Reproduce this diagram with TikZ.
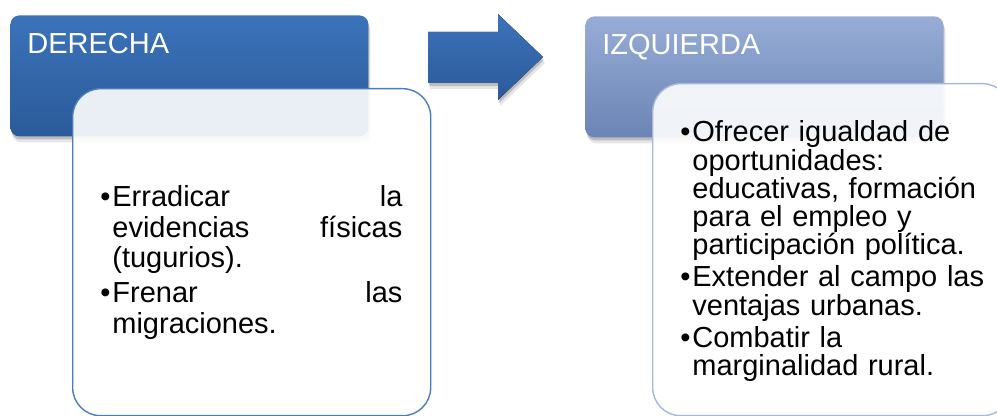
\documentclass[tikz,border=0pt]{standalone}
\usepackage{fontspec}
\setmainfont{Liberation Sans}
\usetikzlibrary{positioning,shadows,calc}
\usepackage{xcolor}
\definecolor{derarriba}{HTML}{3B73BA}
\definecolor{derabajo}{HTML}{2B5A99}
\definecolor{izqarriba}{HTML}{97ADD7}
\definecolor{izqabajo}{HTML}{6B84B4}
\definecolor{bordeder}{HTML}{4A7EBB}
\definecolor{bordeizq}{HTML}{A5B8DB}
\newcommand{\punto}{\noindent\hangindent=6pt\makebox[6pt][l]{•}}

\begin{document}
\begin{tikzpicture}[
    x=0.5pt,y=-0.5pt,
    sombra/.style={drop shadow={shadow xshift=0.5pt,shadow yshift=-1.5pt,opacity=.18,fill=black},
                   drop shadow={shadow xshift=1pt,shadow yshift=-3pt,opacity=.1,fill=black}},
    cabecera/.style={rounded corners=4.5pt,minimum width=179pt,minimum height=60.5pt,
                     inner sep=0pt,anchor=north west,sombra},
    titulo/.style={anchor=base west,inner sep=0pt,text=white,font=\fontsize{14.5}{17}\selectfont},
    contenido/.style={draw,line width=0.7pt,rounded corners=14pt,fill=white,fill opacity=.9,
                      minimum width=179pt,inner sep=0pt,anchor=north west},
    lista/.style={anchor=base west,inner sep=0pt,align=left,text=black}]
  \useasboundingbox (0,0) rectangle (997,416);
  \clip (0,0) rectangle (997,416);

  % columna derecha
  \node[cabecera,top color=derarriba,bottom color=derabajo] (der) at (10,15) {};
  \node[titulo] (tder) at ($(der.north west)+(17,39)$) {DERECHA};
  \node[contenido,draw=bordeder,minimum height=163.5pt] (cder) at ($(der.north west)+(62,73)$) {};
  \node[lista,text width=151pt,font=\fontsize{14.5}{15.25}\selectfont] (lder) at ($(cder.north west)+(28,119)$) {%
    \punto Erradicar\hfill la\newline evidencias\hfill físicas\newline (tugurios).\par\vspace{2.25pt}
    \punto Frenar\hfill las\newline migraciones.\par};

  % flecha
  \fill[top color=derarriba,bottom color=derabajo,sombra]
    (428,32) -- (498,32) -- (498,14) -- (543,57) -- (498,100) -- (498,83) -- (428,83) -- cycle;

  % columna izquierda
  \node[cabecera,top color=izqarriba,bottom color=izqabajo] (izq) at (585,16) {};
  \node[titulo] (tizq) at ($(izq.north west)+(17,39)$) {IZQUIERDA};
  \node[contenido,draw=bordeizq,minimum height=166pt] (cizq) at ($(izq.north west)+(67,67)$) {};
  \node[lista,text width=160pt,font=\fontsize{14.5}{14.1}\selectfont] (lizq) at ($(cizq.north west)+(28,59)$) {%
    \punto Ofrecer igualdad de\newline oportunidades:\newline educativas, formación\newline para el empleo y\newline participación política.\par\vspace{2pt}
    \punto Extender al campo las\newline ventajas urbanas.\par\vspace{2pt}
    \punto Combatir la\newline marginalidad rural.\par};
\end{tikzpicture}
\end{document}
